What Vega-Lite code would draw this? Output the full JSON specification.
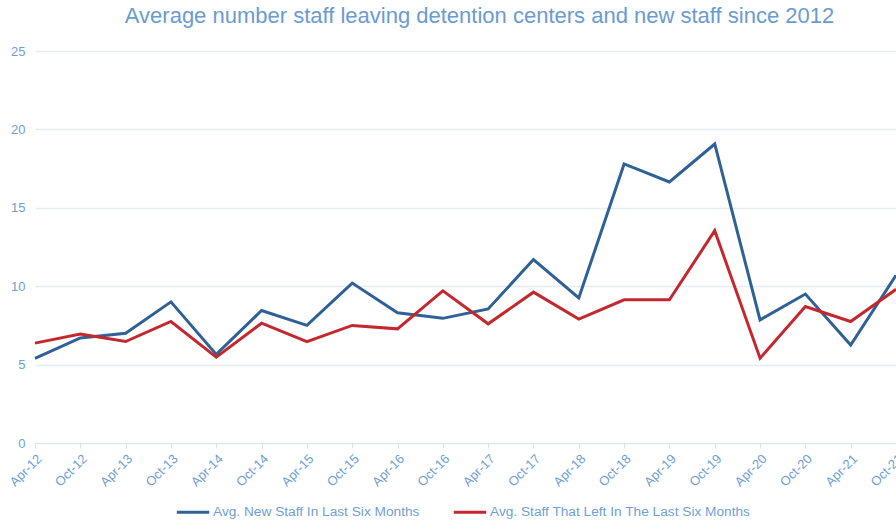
{
  "$schema": "https://vega.github.io/schema/vega-lite/v6.json",
  "autosize": {"type": "none"},
  "width": 861,
  "height": 392,
  "padding": {"left": 35, "top": 51, "right": 0, "bottom": 78},
  "background": "white",
  "title": {
    "text": "Average number staff leaving detention centers and new staff since 2012",
    "fontSize": 22,
    "font": "Liberation Sans",
    "fontWeight": "normal",
    "color": "#6a9bd1",
    "anchor": "middle",
    "dx": 14,
    "offset": 17
  },
  "config": {
    "view": {"stroke": null},
    "font": "Liberation Sans"
  },
  "data": {
    "values": [
      {"period": "Apr-12", "series": "Avg. New Staff In Last Six Months", "value": 5.4},
      {"period": "Oct-12", "series": "Avg. New Staff In Last Six Months", "value": 6.7},
      {"period": "Apr-13", "series": "Avg. New Staff In Last Six Months", "value": 7.0},
      {"period": "Oct-13", "series": "Avg. New Staff In Last Six Months", "value": 9.0},
      {"period": "Apr-14", "series": "Avg. New Staff In Last Six Months", "value": 5.65},
      {"period": "Oct-14", "series": "Avg. New Staff In Last Six Months", "value": 8.45},
      {"period": "Apr-15", "series": "Avg. New Staff In Last Six Months", "value": 7.5},
      {"period": "Oct-15", "series": "Avg. New Staff In Last Six Months", "value": 10.2},
      {"period": "Apr-16", "series": "Avg. New Staff In Last Six Months", "value": 8.3},
      {"period": "Oct-16", "series": "Avg. New Staff In Last Six Months", "value": 7.95},
      {"period": "Apr-17", "series": "Avg. New Staff In Last Six Months", "value": 8.55},
      {"period": "Oct-17", "series": "Avg. New Staff In Last Six Months", "value": 11.7},
      {"period": "Apr-18", "series": "Avg. New Staff In Last Six Months", "value": 9.25},
      {"period": "Oct-18", "series": "Avg. New Staff In Last Six Months", "value": 17.8},
      {"period": "Apr-19", "series": "Avg. New Staff In Last Six Months", "value": 16.65},
      {"period": "Oct-19", "series": "Avg. New Staff In Last Six Months", "value": 19.07},
      {"period": "Apr-20", "series": "Avg. New Staff In Last Six Months", "value": 7.85},
      {"period": "Oct-20", "series": "Avg. New Staff In Last Six Months", "value": 9.5},
      {"period": "Apr-21", "series": "Avg. New Staff In Last Six Months", "value": 6.25},
      {"period": "Oct-21", "series": "Avg. New Staff In Last Six Months", "value": 10.7},
      {"period": "Apr-12", "series": "Avg. Staff That Left In The Last Six Months", "value": 6.37},
      {"period": "Oct-12", "series": "Avg. Staff That Left In The Last Six Months", "value": 6.95},
      {"period": "Apr-13", "series": "Avg. Staff That Left In The Last Six Months", "value": 6.47},
      {"period": "Oct-13", "series": "Avg. Staff That Left In The Last Six Months", "value": 7.75},
      {"period": "Apr-14", "series": "Avg. Staff That Left In The Last Six Months", "value": 5.47},
      {"period": "Oct-14", "series": "Avg. Staff That Left In The Last Six Months", "value": 7.64},
      {"period": "Apr-15", "series": "Avg. Staff That Left In The Last Six Months", "value": 6.47},
      {"period": "Oct-15", "series": "Avg. Staff That Left In The Last Six Months", "value": 7.5},
      {"period": "Apr-16", "series": "Avg. Staff That Left In The Last Six Months", "value": 7.28},
      {"period": "Oct-16", "series": "Avg. Staff That Left In The Last Six Months", "value": 9.7},
      {"period": "Apr-17", "series": "Avg. Staff That Left In The Last Six Months", "value": 7.6},
      {"period": "Oct-17", "series": "Avg. Staff That Left In The Last Six Months", "value": 9.62},
      {"period": "Apr-18", "series": "Avg. Staff That Left In The Last Six Months", "value": 7.9},
      {"period": "Oct-18", "series": "Avg. Staff That Left In The Last Six Months", "value": 9.13},
      {"period": "Apr-19", "series": "Avg. Staff That Left In The Last Six Months", "value": 9.13},
      {"period": "Oct-19", "series": "Avg. Staff That Left In The Last Six Months", "value": 13.54},
      {"period": "Apr-20", "series": "Avg. Staff That Left In The Last Six Months", "value": 5.41},
      {"period": "Oct-20", "series": "Avg. Staff That Left In The Last Six Months", "value": 8.7},
      {"period": "Apr-21", "series": "Avg. Staff That Left In The Last Six Months", "value": 7.75},
      {"period": "Oct-21", "series": "Avg. Staff That Left In The Last Six Months", "value": 9.8}
    ]
  },
  "mark": {"type": "line", "strokeWidth": 3, "strokeJoin": "miter"},
  "encoding": {
    "x": {
      "field": "period",
      "type": "ordinal",
      "sort": null,
      "scale": {"type": "point", "padding": 0},
      "axis": {
        "title": null,
        "labelAngle": -45,
        "labelFontSize": 13,
        "labelColor": "#6f9fd6",
        "labelPadding": 4,
        "domainColor": "#d9e3f1",
        "tickColor": "#d9e3f1",
        "tickSize": 5,
        "grid": false
      }
    },
    "y": {
      "field": "value",
      "type": "quantitative",
      "scale": {"domain": [0, 25], "nice": false},
      "axis": {
        "title": null,
        "values": [0, 5, 10, 15, 20, 25],
        "labelFontSize": 13,
        "labelColor": "#6f9fd6",
        "labelPadding": 10,
        "domain": false,
        "ticks": false,
        "grid": true,
        "gridColor": "#e6ecf6",
        "gridWidth": 1.5
      }
    },
    "color": {
      "field": "series",
      "type": "nominal",
      "scale": {
        "domain": ["Avg. New Staff In Last Six Months", "Avg. Staff That Left In The Last Six Months"],
        "range": ["#2f6096", "#c3282f"]
      },
      "legend": {
        "title": null,
        "orient": "none",
        "direction": "horizontal",
        "legendX": 140,
        "legendY": 443,
        "symbolType": "stroke",
        "symbolSize": 1050,
        "symbolStrokeWidth": 3,
        "labelFontSize": 13.7,
        "labelLimit": 400,
        "labelColor": "#6f9fd6",
        "labelOffset": 2,
        "columnPadding": 27
      }
    }
  }
}
